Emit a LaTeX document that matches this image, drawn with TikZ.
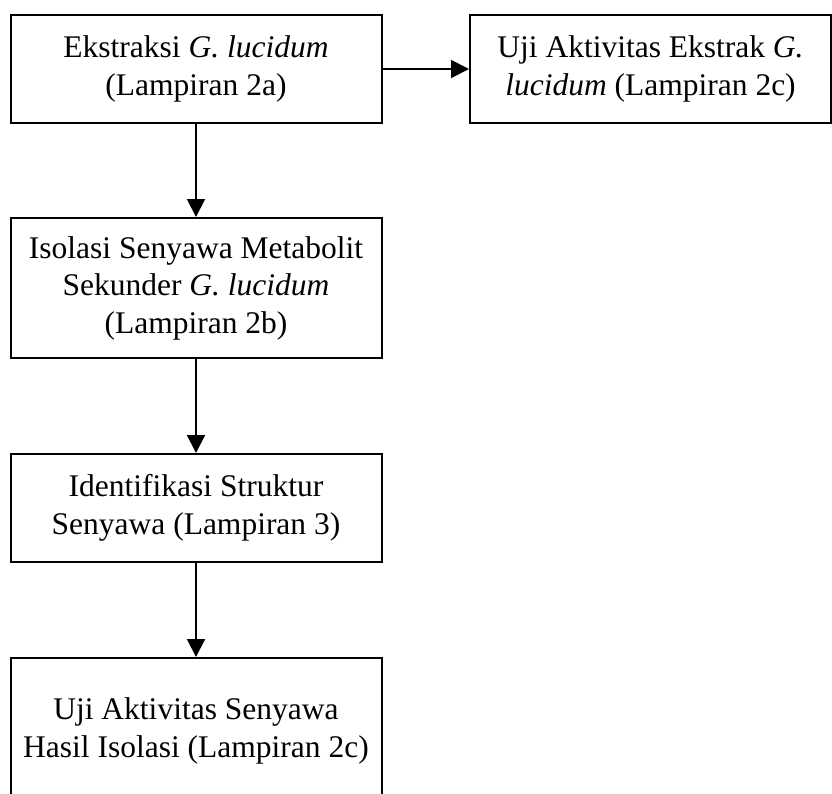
\documentclass[tikz,border=0pt]{standalone}
\usepackage{fontspec}
\setmainfont{Liberation Serif}
\usetikzlibrary{arrows.meta}

\begin{document}
\begin{tikzpicture}[x=1pt,y=-1pt,
  flowbox/.style={draw, line width=2pt, align=center, inner sep=0pt,
    font=\fontsize{31.5}{37.5}\selectfont},
  flowarrow/.style={line width=2pt, -{Triangle[length=18pt,width=18pt]}}]
  \useasboundingbox (0,0) rectangle (832,793);
  \clip (0,0) rectangle (832,793);

  % process steps
  \node[flowbox, minimum width=371pt, minimum height=108pt] (ekstraksi) at (196,69)
    {Ekstraksi \textit{G. lucidum}\\(Lampiran 2a)};
  \node[flowbox, minimum width=361pt, minimum height=108pt] (ujiekstrak) at (650.5,69)
    {Uji Aktivitas Ekstrak \textit{G.}\\\textit{lucidum} (Lampiran 2c)};
  \node[flowbox, minimum width=371pt, minimum height=140pt] (isolasi) at (196,288)
    {Isolasi Senyawa Metabolit\\Sekunder \textit{G. lucidum}\\(Lampiran 2b)};
  \node[flowbox, minimum width=371pt, minimum height=108pt] (identifikasi) at (196,508)
    {Identifikasi Struktur\\Senyawa (Lampiran 3)};
  \node[flowbox, minimum width=371pt, minimum height=146pt] (ujisenyawa) at (196,731)
    {Uji Aktivitas Senyawa\\Hasil Isolasi (Lampiran 2c)};

  % connectors
  \draw[flowarrow] (ekstraksi.east) -- (ujiekstrak.west);
  \draw[flowarrow] (ekstraksi.south) -- (isolasi.north);
  \draw[flowarrow] (isolasi.south) -- (identifikasi.north);
  \draw[flowarrow] (identifikasi.south) -- (ujisenyawa.north);
\end{tikzpicture}
\end{document}
